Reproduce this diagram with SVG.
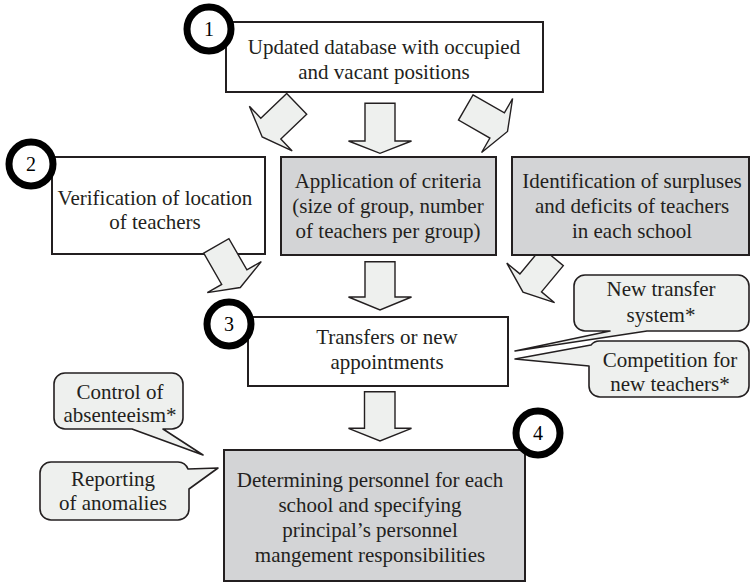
<svg xmlns="http://www.w3.org/2000/svg" width="751" height="583" viewBox="0 0 751 583">
  <style>
    text { font-family: "Liberation Serif", "Times New Roman", serif; font-size: 21px; fill: #231f20; text-anchor: middle; }
    .box { fill: #ffffff; stroke: #231f20; stroke-width: 2; }
    .grey { fill: #d3d4d6; }
    .arrow { fill: #eef0ee; stroke: #231f20; stroke-width: 1.4; stroke-linejoin: miter; }
    .bubble { fill: #eef0ee; stroke: #231f20; stroke-width: 1.6; stroke-linejoin: round; }
    .step { fill: #ffffff; stroke: #000000; stroke-width: 7; }
    .num { font-size: 20px; fill: #000000; }
  </style>

  <!-- block arrows between the stages -->
  <g id="connectors">
    <polygon class="arrow" points="286.7,93.4 306.7,114.2 280.8,139 292.2,150.9 262.2,136.9 249.4,106.3 260.8,118.2"/>
    <polygon class="arrow" points="365,103.3 395,103.3 395,141 411.5,141 380,153.3 348.5,141 365,141"/>
    <polygon class="arrow" points="473,94.9 504.4,112.9 512.6,98.5 507.5,131.5 481.6,152.5 489.9,138.1 458.5,120.1"/>
    <polygon class="arrow" points="365,261.7 395,261.7 395,297 411.5,297 380,310 348.5,297 365,297"/>
    <polygon class="arrow" points="541.7,247.7 563.3,265.7 541.5,291.9 554.6,302.7 523,292.1 506.8,263.1 519.9,273.9"/>
    <polygon class="arrow" points="364.5,391.7 395,391.7 395,428.3 411.5,428.3 380,441 348.5,428.3 364.5,428.3"/>
  </g>

  <g id="node-database">
    <rect class="box" x="226" y="22" width="317" height="70"/>
    <text x="384" y="54">Updated database with occupied</text>
    <text x="384" y="78.5">and vacant positions</text>
  </g>

  <g id="node-verification">
    <rect class="box" x="52" y="157" width="213" height="97"/>
    <text x="155" y="205">Verification of location</text>
    <text x="155" y="229">of teachers</text>
  </g>

  <!-- arrow from the verification box overlaps its lower edge -->
  <g id="connector-verification">
    <polygon class="arrow" points="203.7,253.1 228.9,238.6 246.9,269.9 261.3,261.6 240.3,287.5 207.3,292.6 221.7,284.4"/>
  </g>

  <g id="node-criteria">
    <rect class="box grey" x="281" y="157" width="215" height="98"/>
    <text x="388" y="187.5">Application of criteria</text>
    <text x="388" y="212.5">(size of group, number</text>
    <text x="388" y="237.5">of teachers per group)</text>
  </g>

  <g id="node-surpluses">
    <rect class="box grey" x="512" y="157" width="237" height="98"/>
    <text x="632" y="187.5">Identification of surpluses</text>
    <text x="632" y="212.5">and deficits of teachers</text>
    <text x="632" y="237.5">in each school</text>
  </g>

  <g id="node-transfers">
    <rect class="box" x="248" y="317" width="260" height="69"/>
    <text x="387" y="344">Transfers or new</text>
    <text x="387" y="368.5">appointments</text>
  </g>

  <g id="node-personnel">
    <rect class="box grey" x="224" y="450" width="301" height="131"/>
    <text x="370" y="487">Determining personnel for each</text>
    <text x="370" y="512">school and specifying</text>
    <text x="370" y="537">principal’s personnel</text>
    <text x="370" y="562">mangement responsibilities</text>
  </g>

  <!-- speech-bubble notes -->
  <g id="note-transfer-system">
    <path class="bubble" d="M585,275 H738 A11,11 0 0 1 749,286 V320 A11,11 0 0 1 738,331 H647 L515,351 L610,331 H585 A11,11 0 0 1 574,320 V286 A11,11 0 0 1 585,275 Z"/>
    <text x="661" y="296">New transfer</text>
    <text x="661" y="322">system*</text>
  </g>

  <g id="note-competition">
    <path class="bubble" d="M600,341 H738 A11,11 0 0 1 749,352 V386 A11,11 0 0 1 738,397 H600 A11,11 0 0 1 589,386 V366 L515,359 L591,345 A11,11 0 0 1 600,341 Z"/>
    <text x="670" y="366.5">Competition for</text>
    <text x="670" y="391">new teachers*</text>
  </g>

  <g id="note-absenteeism">
    <path class="bubble" d="M65,373 H172 A11,11 0 0 1 183,384 V418 A11,11 0 0 1 172,429 H163 L203,455 L132,429 H65 A11,11 0 0 1 54,418 V384 A11,11 0 0 1 65,373 Z"/>
    <text x="120" y="398.5">Control of</text>
    <text x="120" y="422">absenteeism*</text>
  </g>

  <g id="note-anomalies">
    <path class="bubble" d="M51,462 H178 A11,11 0 0 1 188,469 L218,468 L189,489 V509 A11,11 0 0 1 178,520 H51 A11,11 0 0 1 40,509 V473 A11,11 0 0 1 51,462 Z"/>
    <text x="113" y="485.5">Reporting</text>
    <text x="113" y="509.5">of anomalies</text>
  </g>

  <!-- numbered step markers -->
  <g id="step-1">
    <circle class="step" cx="209" cy="29" r="22"/>
    <text class="num" x="209" y="36">1</text>
  </g>
  <g id="step-2">
    <circle class="step" cx="31" cy="164" r="22"/>
    <text class="num" x="31" y="171">2</text>
  </g>
  <g id="step-3">
    <circle class="step" cx="229" cy="324" r="22"/>
    <text class="num" x="229" y="331">3</text>
  </g>
  <g id="step-4">
    <circle class="step" cx="538" cy="433" r="22"/>
    <text class="num" x="538" y="440">4</text>
  </g>
</svg>
